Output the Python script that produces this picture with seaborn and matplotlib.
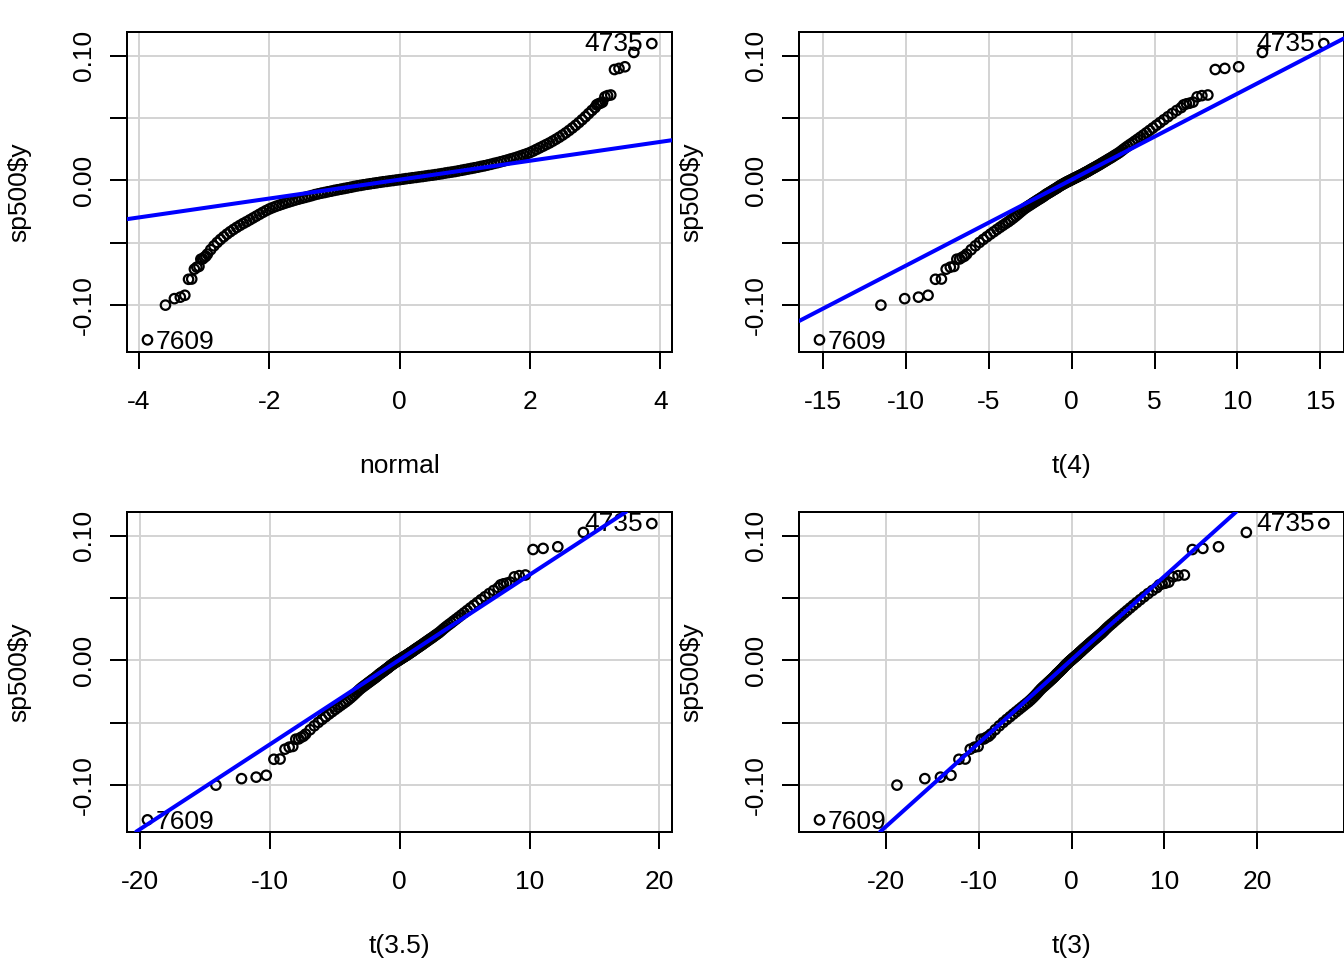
import math
import numpy as np
import matplotlib
matplotlib.use("Agg")
import matplotlib.pyplot as plt
import seaborn as sns

# sp500$y: normal quantile and sorted return
norm_q = [-3.870, -3.594, -3.457, -3.366, -3.297, -3.240, -3.191, -3.150, -3.113,
          -3.080, -3.051, -3.023, -2.998, -2.974,
          -2.95, -2.90, -2.85, -2.80, -2.75, -2.70, -2.65, -2.60, -2.55, -2.50,
          -2.45, -2.40, -2.35, -2.30, -2.25, -2.20, -2.15, -2.10, -2.05, -2.00,
          -1.95, -1.90, -1.85, -1.80, -1.75, -1.70, -1.65, -1.60, -1.55, -1.50,
          -1.45, -1.40, -1.35, -1.30, -1.25, -1.20, -1.15, -1.10, -1.05, -1.00,
          -0.95, -0.90, -0.85, -0.80, -0.75, -0.70, -0.65, -0.60, -0.55, -0.50,
          -0.45, -0.40, -0.35, -0.30, -0.25, -0.20, -0.15, -0.10, -0.05, 0.00,
          0.05, 0.10, 0.15, 0.20, 0.25, 0.30, 0.35, 0.40, 0.45, 0.50,
          0.55, 0.60, 0.65, 0.70, 0.75, 0.80, 0.85, 0.90, 0.95, 1.00,
          1.05, 1.10, 1.15, 1.20, 1.25, 1.30, 1.35, 1.40, 1.45, 1.50,
          1.55, 1.60, 1.65, 1.70, 1.75, 1.80, 1.85, 1.90, 1.95, 2.00,
          2.05, 2.10, 2.15, 2.20, 2.25, 2.30, 2.35, 2.40, 2.45, 2.50,
          2.55, 2.60, 2.65, 2.70, 2.75, 2.80, 2.85, 2.90, 2.95,
          2.998, 3.023, 3.051, 3.080, 3.113, 3.150, 3.191, 3.240, 3.297,
          3.366, 3.457, 3.594, 3.870]
sp500_y = [-0.1277, -0.0999, -0.0947, -0.0935, -0.0920, -0.0792, -0.0790, -0.0711, -0.0695,
           -0.0689, -0.0631, -0.0629, -0.0616, -0.0607,
           -0.0590, -0.0555, -0.0524, -0.0497, -0.0473, -0.0451, -0.0430, -0.0411, -0.0393, -0.0376,
           -0.0360, -0.0345, -0.0331, -0.0316, -0.0301, -0.0286, -0.0271, -0.0256, -0.0242, -0.0229,
           -0.0218, -0.0208, -0.0199, -0.0190, -0.0181, -0.0173, -0.0165, -0.0157, -0.0150, -0.0143,
           -0.0136, -0.0129, -0.0122, -0.0114, -0.0108, -0.0102, -0.0097, -0.0091, -0.0086, -0.0080,
           -0.0075, -0.0070, -0.0065, -0.0060, -0.0055, -0.0049, -0.0044, -0.0040, -0.0035, -0.0031,
           -0.0027, -0.0023, -0.0019, -0.0015, -0.0011, -0.0008, -0.0004, -0.0001, 0.0003, 0.0006,
           0.0010, 0.0014, 0.0017, 0.0021, 0.0024, 0.0028, 0.0031, 0.0035, 0.0039, 0.0042,
           0.0046, 0.0050, 0.0054, 0.0059, 0.0063, 0.0067, 0.0071, 0.0076, 0.0081, 0.0086,
           0.0091, 0.0096, 0.0101, 0.0106, 0.0112, 0.0117, 0.0123, 0.0129, 0.0136, 0.0142,
           0.0149, 0.0156, 0.0163, 0.0171, 0.0178, 0.0186, 0.0195, 0.0204, 0.0213, 0.0223,
           0.0235, 0.0248, 0.0261, 0.0274, 0.0287, 0.0300, 0.0315, 0.0330, 0.0346, 0.0363,
           0.0381, 0.0400, 0.0420, 0.0441, 0.0463, 0.0486, 0.0510, 0.0535, 0.0560,
           0.0583, 0.0605, 0.0613, 0.0618, 0.0627, 0.0669, 0.0679, 0.0684, 0.0888,
           0.0897, 0.0910, 0.1025, 0.1096]
y_quartiles = [-0.0045, 0.0057]
label_ids = ["7609", "4735"]   # observation numbers of the min and the max

panel_names = ["normal", "t(4)", "t(3.5)", "t(3)"]
panel_df = [None, 4, 3.5, 3]
x_ticks = [[-4, -2, 0, 2, 4],
           [-15, -10, -5, 0, 5, 10, 15],
           [-20, -10, 0, 10, 20],
           [-20, -10, 0, 10, 20]]
y_ticks = [-0.10, -0.05, 0.00, 0.05, 0.10]
y_tick_labels = ["-0.10", "", "0.00", "", "0.10"]


def tail_table(df):
    # upper tail probability of normal (df None) or t(df), on a tan-mapped grid
    u = np.linspace(0.0, np.pi / 2, 400001)[:-1]
    t = np.tan(u)
    if df is None:
        dens = np.exp(-t ** 2 / 2) / math.sqrt(2 * math.pi)
    else:
        c = math.exp(math.lgamma((df + 1) / 2) - math.lgamma(df / 2)) / math.sqrt(df * math.pi)
        dens = c * (1 + t ** 2 / df) ** (-(df + 1) / 2)
    g = dens / np.cos(u) ** 2
    area = np.concatenate([[0.0], np.cumsum((g[1:] + g[:-1]) / 2 * np.diff(u))])
    return t[::-1], (0.5 - area)[::-1]


z = np.array(norm_q)
y = np.array(sp500_y)
tail_p = np.array([0.5 * math.erfc(abs(v) / math.sqrt(2)) for v in z])

sns.set_theme(style="white")
plt.rcParams["font.family"] = ["Liberation Sans", "DejaVu Sans"]
plt.rcParams["text.color"] = "black"
plt.rcParams["axes.labelcolor"] = "black"

fig = plt.figure(figsize=(13.44, 9.6), dpi=100)
positions = [(0.09472, 0.63365), (0.59472, 0.63365), (0.09472, 0.13365), (0.59472, 0.13365)]
fs = 19

for i in range(4):
    ax = fig.add_axes([positions[i][0], positions[i][1], 0.40528, 0.33333])
    tt, up = tail_table(panel_df[i])
    xq = np.sign(z) * np.interp(tail_p, up, tt)
    q75 = np.interp(0.25, up, tt)
    slope = (y_quartiles[1] - y_quartiles[0]) / (2 * q75)
    icpt = y_quartiles[0] + slope * q75

    sns.scatterplot(x=xq, y=y, ax=ax, marker="o", s=46, facecolor="none",
                    edgecolor="black", linewidth=1.6, zorder=3)
    ax.axline((0, icpt), slope=slope, color="#0000FF", lw=2.9, zorder=4)

    xr = xq.max() - xq.min()
    yr = y.max() - y.min()
    ax.set_xlim(xq.min() - 0.04 * xr, xq.max() + 0.04 * xr)
    ax.set_ylim(y.min() - 0.04 * yr, y.max() + 0.04 * yr)

    imin, imax = int(np.argmin(y)), int(np.argmax(y))
    ax.annotate(label_ids[0], (xq[imin], y[imin]), xytext=(6, -1.2),
                textcoords="offset points", ha="left", va="center", fontsize=fs)
    ax.annotate(label_ids[1], (xq[imax], y[imax]), xytext=(-6, -0.5),
                textcoords="offset points", ha="right", va="center", fontsize=fs)

    ax.set_xticks(x_ticks[i], [str(v) for v in x_ticks[i]])
    ax.set_yticks(y_ticks, y_tick_labels, rotation=90, va="center")
    ax.tick_params(axis="both", direction="out", length=12.2, width=1.44,
                   color="black", labelsize=fs, labelcolor="black",
                   bottom=True, left=True)
    ax.tick_params(axis="x", pad=15.5)
    ax.tick_params(axis="y", pad=10.5)
    ax.grid(True, color="#D3D3D3", lw=1.4)
    ax.set_axisbelow(True)
    for sp in ax.spines.values():
        sp.set_color("black")
        sp.set_linewidth(1.44)

    ax.set_xlabel(panel_names[i], fontsize=fs, va="center")
    ax.xaxis.set_label_coords(0.5, -0.357)
    ax.set_ylabel("sp500$y", fontsize=fs, va="center")
    ax.yaxis.set_label_coords(-0.1988, 0.5)

fig.savefig("out.png", dpi=100)
